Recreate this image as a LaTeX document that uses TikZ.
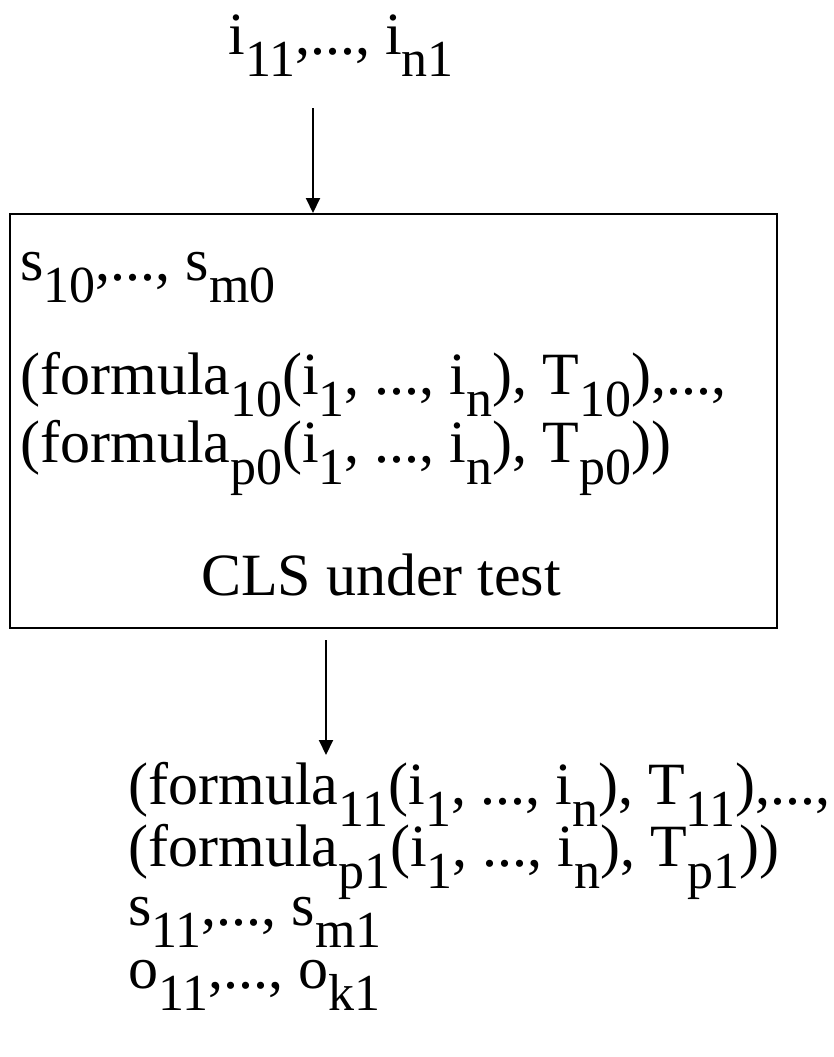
\documentclass[tikz,border=0pt]{standalone}
\usepackage{fontspec}
\setmainfont{Liberation Serif}
\usetikzlibrary{arrows.meta,positioning}

% lowered subscript in text font
\newcommand{\lo}[1]{\raisebox{-0.8ex}{\fontsize{26}{26}\selectfont #1}}

\tikzset{
  txt/.style={anchor=base west, inner sep=0pt, font=\fontsize{30}{36}\selectfont},
  flow/.style={line width=1pt, -{Triangle[length=7.5pt,width=7pt]}},
}

\begin{document}
\begin{tikzpicture}[x=0.5pt, y=-0.5pt]
    \useasboundingbox (0,0) rectangle (834,1057);

    % Ingressi
    \node[txt] (inp) at (228,54) {i\lo{11},..., i\lo{n1}};

    % Blocco sotto test
    \node[draw, line width=1pt, minimum width=383.5pt, minimum height=207pt,
          inner sep=0pt] (cls) at (393.5,421) {};
    \node[txt] (st0) at (20,280) {s\lo{10},..., s\lo{m0}};
    \node[txt] (fa0) at (20,394) {(formula\lo{10}(i\lo{1}, ..., i\lo{n}), T\lo{10}),...,};
    \node[txt] (fb0) at (20,462) {(formula\lo{p0}(i\lo{1}, ..., i\lo{n}), T\lo{p0}))};
    \node[txt, anchor=base] (lbl) at (381,595) {CLS under test};

    % Uscite
    \node[txt] (fa1) at (128,804) {(formula\lo{11}(i\lo{1}, ..., i\lo{n}), T\lo{11}),...,};
    \node[txt] (fb1) at (128,866) {(formula\lo{p1}(i\lo{1}, ..., i\lo{n}), T\lo{p1}))};
    \node[txt] (st1) at (128,925) {s\lo{11},..., s\lo{m1}};
    \node[txt] (out) at (128,988) {o\lo{11},..., o\lo{k1}};

    % Frecce
    \coordinate (a0) at (313,108);
    \coordinate (a1) at (326,640);
    \coordinate (a2) at (326,755);
    \draw[flow] (a0) -- (a0 |- cls.north);
    \draw[flow] (a1) -- (a2);
\end{tikzpicture}
\end{document}
